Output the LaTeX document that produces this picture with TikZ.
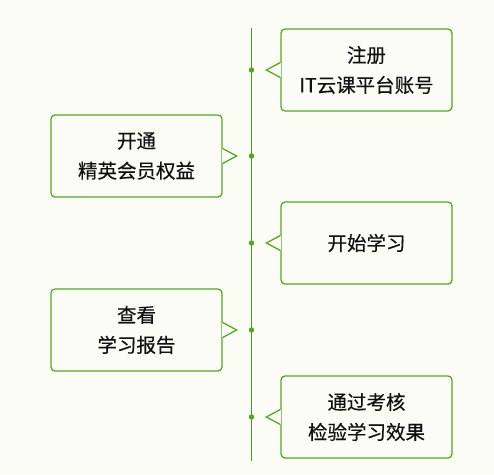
\documentclass[tikz,border=0pt]{standalone}
\usepackage{fontspec}
\newfontfamily\cjk[FakeBold=0.35,AutoFakeBold=0.35]{Noto Sans CJK SC}
\definecolor{bgc}{HTML}{FCFCF7}
\definecolor{grn}{HTML}{55A820}
\definecolor{lgrn}{HTML}{4E9A22}
\definecolor{txt}{HTML}{101010}
\tikzset{
  card/.style={draw=grn, line width=1.3pt, fill=bgc, rounded corners=4pt,
    minimum width=171pt, minimum height=82pt, inner sep=0pt,
    align=center, text=txt, font=\cjk\fontsize{19.5}{30}\selectfont},
  notch/.style={draw=grn, line width=1.3pt, fill=bgc, line join=miter},
  gapfill/.style={fill=bgc},
  dotc/.style={circle, fill=grn, inner sep=0pt, minimum size=5.5pt},
  axis/.style={draw=lgrn, line width=1pt}
}
\begin{document}
\begin{tikzpicture}[x=1pt,y=-1pt]
\fill[bgc] (0,0) rectangle (494,474);
\useasboundingbox (0,0) rectangle (494,474);
% timeline
\coordinate (top) at (251.5,28);
\coordinate (bot) at (251.5,461);
\draw[axis] (top) -- (bot);
% cards
\node[card] (b1) at (366.5,70) {注册\\IT云课平台账号};
\node[card] (b2) at (136.5,156) {开通\\精英会员权益};
\node[card] (b3) at (366.5,243) {开始学习};
\node[card] (b4) at (136.5,330) {查看\\学习报告};
\node[card] (b5) at (366.5,417) {通过考核\\检验学习效果};
% dots
\node[dotc] (d1) at (251.5,70) {};
\node[dotc] (d2) at (251.5,156) {};
\node[dotc] (d3) at (251.5,243) {};
\node[dotc] (d4) at (251.5,330) {};
\node[dotc] (d5) at (251.5,417) {};
% notches on right-hand cards (pointing left)
\foreach \b in {b1,b3,b5}{
  \fill[gapfill] ([xshift=-1pt,yshift=-7pt]\b.west) rectangle ([xshift=1pt,yshift=7pt]\b.west);
  \draw[notch] ([yshift=-7.5pt]\b.west) -- ([xshift=-14pt]\b.west) -- ([yshift=7.5pt]\b.west);
}
% notches on left-hand cards (pointing right)
\foreach \b in {b2,b4}{
  \fill[gapfill] ([xshift=-1pt,yshift=-7pt]\b.east) rectangle ([xshift=1pt,yshift=7pt]\b.east);
  \draw[notch] ([yshift=-7.5pt]\b.east) -- ([xshift=14pt]\b.east) -- ([yshift=7.5pt]\b.east);
}
\end{tikzpicture}
\end{document}
